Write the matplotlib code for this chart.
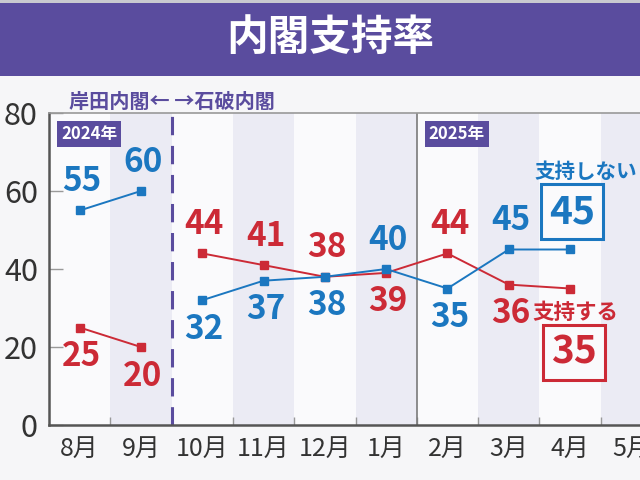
import matplotlib
matplotlib.use("Agg")
import matplotlib.pyplot as plt
from matplotlib.patches import Rectangle

plt.rcParams['font.family'] = ['Noto Sans CJK JP', 'DejaVu Sans']

# ---- data ----
months = ['8月', '9月', '10月', '11月', '12月', '1月', '2月', '3月', '4月', '5月']
support = [25, 20, 44, 41, 38, 39, 44, 36, 35]        # 支持する
nonsupport = [55, 60, 32, 37, 38, 40, 35, 45, 45]     # 支持しない
break_after = 1   # cabinet change between 9月 and 10月
title = '内閣支持率'
cabinet_note = '岸田内閣← →石破内閣'
year_tags = ['2024年', '2025年']
yticks = [0, 20, 40, 60, 80]

RED = '#cc2a36'
BLUE = '#1b77c0'
PURPLE = '#5a4c9e'
BAND = '#ebebf4'
BG = '#f6f6f8'

fig = plt.figure(figsize=(6.4, 4.8), dpi=100, facecolor=BG)

# title bar
fig.patches.append(Rectangle((0, 1 - 76/480), 1, 73/480, transform=fig.transFigure,
                             facecolor=PURPLE, edgecolor='none', zorder=0))
fig.patches.append(Rectangle((0, 1 - 3/480), 1, 3/480, transform=fig.transFigure,
                             facecolor='#c9c9cf', edgecolor='none', zorder=0))
fig.text(330/640, 1 - 38/480, title, color='white', fontsize=30, fontweight='bold',
         ha='center', va='center')

n = len(months)
ax = fig.add_axes([49/640, 55/480, 61.3*n/640, 312/480])
ax.set_facecolor('#fafafc')
ax.set_xlim(-0.5, n - 0.5)
ax.set_ylim(0, 80)

# alternating bands
for i in range(n):
    if i % 2 == 1:
        ax.axvspan(i - 0.5, i + 0.5, color=BAND, zorder=0, lw=0)

# dividers
ax.axvline(break_after + 0.5, color=PURPLE, lw=2.2, ls=(0, (6, 3.5)), zorder=2)
ax.axvline(5.5, color='#7a7a7a', lw=1.2, zorder=2)

# lines
xs = list(range(len(support)))
for vals, col in ((support, RED), (nonsupport, BLUE)):
    ax.plot(xs[:break_after + 1], vals[:break_after + 1], color=col, lw=1.4,
            marker='s', ms=5.5, zorder=4)
    ax.plot(xs[break_after + 1:], vals[break_after + 1:], color=col, lw=1.4,
            marker='s', ms=5.5, zorder=4)

# value labels
off = 29
for i in range(len(support) - 1):
    r, b = support[i], nonsupport[i]
    r_up = r >= b
    b_up = b > r
    ax.annotate(str(r), (i, r), xytext=(2, off if r_up else -off), textcoords='offset pixels',
                ha='center', va='center', color=RED, fontsize=24, fontweight='bold', zorder=5)
    ax.annotate(str(b), (i, b), xytext=(2, off if b_up else -off), textcoords='offset pixels',
                ha='center', va='center', color=BLUE, fontsize=24, fontweight='bold', zorder=5)

# latest values boxed
last = len(support) - 1
ax.annotate(str(nonsupport[last]), (last, nonsupport[last]), xytext=(2, 38),
            textcoords='offset pixels', ha='center', va='center', color=BLUE,
            fontsize=28, fontweight='bold', zorder=6,
            bbox=dict(boxstyle='square,pad=0.2', fc='#fafafc', ec=BLUE, lw=2.2))
ax.annotate('支持しない', (last, nonsupport[last]), xytext=(-36, 78),
            textcoords='offset pixels', ha='left', va='center', color=BLUE,
            fontsize=14.8, fontweight='bold', zorder=6, annotation_clip=False)
ax.annotate(str(support[last]), (last, support[last]), xytext=(4, -64),
            textcoords='offset pixels', ha='center', va='center', color=RED,
            fontsize=28, fontweight='bold', zorder=6,
            bbox=dict(boxstyle='square,pad=0.2', fc='#fafafc', ec=RED, lw=2.2))
ax.annotate('支持する', (last, support[last]), xytext=(-38, -24),
            textcoords='offset pixels', ha='left', va='center', color=RED,
            fontsize=15.5, fontweight='bold', zorder=6)

# year tags
for tag, xpos in zip(year_tags, (-0.5, 5.5)):
    ax.annotate(tag, (xpos, 80), xytext=(12, -12), textcoords='offset pixels',
                ha='left', va='top', color='white', fontsize=12, fontweight='bold',
                bbox=dict(boxstyle='square,pad=0.22', fc=PURPLE, ec='none'), zorder=6)

# cabinet note
ax.annotate(cabinet_note, (break_after + 0.5, 80), xytext=(0, 12), textcoords='offset pixels',
            ha='center', va='center', color=PURPLE, fontsize=14.5, fontweight='bold',
            annotation_clip=False)

# axes styling
ax.spines['right'].set_visible(False)
ax.spines['left'].set_color('#555555')
ax.spines['left'].set_linewidth(1.8)
ax.spines['bottom'].set_color('#555555')
ax.spines['bottom'].set_linewidth(1.8)
ax.spines['top'].set_color('#999999')
ax.spines['top'].set_linewidth(1.2)

ax.set_yticks(yticks)
ax.set_yticklabels([str(v) for v in yticks])
ax.tick_params(axis='y', direction='in', length=10, width=1, color='#999999',
               labelsize=22, labelcolor='#333333', pad=8)
ax.set_xticks(range(n))
ax.set_xticklabels(months)
ax.tick_params(axis='x', which='major', length=0, labelsize=18, labelcolor='#333333', pad=8)
ax.set_xticks([i + 0.5 for i in range(n - 1)], minor=True)
ax.tick_params(axis='x', which='minor', direction='in', length=6, width=1, color='#999999')

fig.savefig('out.png', dpi=100, facecolor=BG)
